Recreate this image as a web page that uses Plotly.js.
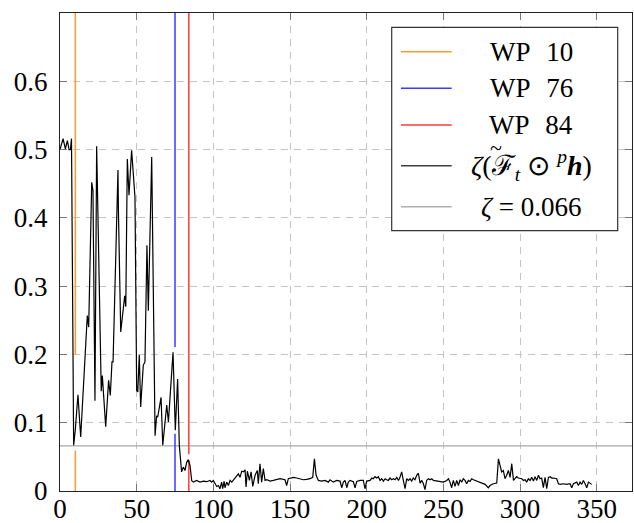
<!DOCTYPE html>
<html><head><meta charset="utf-8">
<script src="https://cdn.plot.ly/plotly-3.0.1.min.js"></script>
<style>html,body{margin:0;padding:0;background:#fff}#chart{width:634px;height:523px}</style>
</head><body><div id="chart"></div>
<script>
// black curve: zeta(F_t ⊙ p h)
const curveX = [0,1,2,3.5,4.8,5.9,6.8,7.5,8.9,10,11.7,13.5,15.5,17.8,18.7,20.7,21.5,22.8,23.9,25.4,26.9,27.6,29.8,31.7,32.8,33.9,34.6,37.8,38.1,39.6,42.2,42.9,43.9,45,46.7,48.9,50,50.7,51.7,52.6,54.3,55.4,56.7,57.6,59.8,62,63,63.7,65.9,67,69.6,70.7,73.7,75.2,76.7,77.8,78.5,79.3,80.4,81.5,82.6,83.7,84.8,
85.9,87,89.1,91.3,93.5,95.7,97.8,98.9,100,102.2,103.3,104.3,105.4,106.1,107,107.6,108.7,109.8,110.9,112,113,115.2,116.3,117.4,118.5,119.6,120.7,121.3,122.2,123.5,124.6,125.7,127.2,128.7,129.3,130.4,131.5,132.6,133.7,134.8,137,139.1,141.3,143.5,146.7,147.8,148.9,150,152.2,154.3,156.5,158.7,160.9,163,164.8,165.9,167,168.5,170.7,172.8,175,176.1,178.3,180.4,182.6,183.7,184.8,185.9,187,188,189.1,191.3,192.4,193.5,195.7,197.8,198.9,200,202.2,
203.3,204.3,205.4,206.5,207.6,208.7,209.8,210.9,212,213,214.1,215.2,216.3,217.4,218.5,219.6,220.7,221.7,222.8,223.9,225,226.1,227.2,228.3,229.3,230.4,231.5,232.6,233.7,234.8,235.9,237,238,239.1,240.2,241.3,242.4,243.5,245.7,247.8,250,252.2,253.3,254.3,255.4,256.5,257.6,258.7,259.8,260.9,262,263,264.1,265.2,266.3,267.4,268.5,269.6,270.7,272.8,275,277.2,279.3,280.4,282.6,284.8,285.9,287,288,289.1,290.2,291.3,292.4,293.5,294.6,295.7,296.7,297.8,298.9,300,301.1,302.2,303.3,304.3,305.4,306.5,307.6,308.7,309.8,310.9,312,313,314.1,315.2,316.3,317.4,318.5,319.6,320.7,321.7,323.9,325,326.1,328.3,330.4,332.6,333.7,334.8,335.9,337,338,339.1,340.2,341.3,342.4,343.5,344.6,345.7,346.7];
const curveY = [0.5,0.508,0.516,0.501,0.513,0.5,0.5,0.516,0.067,0.09,0.141,0.079,0.17,0.257,0.24,0.452,0.44,0.132,0.505,0.35,0.146,0.169,0.094,0.162,0.14,0.189,0.189,0.47,0.41,0.233,0.286,0.27,0.486,0.433,0.499,0.43,0.147,0.145,0.199,0.123,0.184,0.189,0.36,0.264,0.489,0.081,0.11,0.108,0.137,0.067,0.126,0.101,0.203,0.089,0.164,0.067,0.045,0.028,0.035,0.03,0.042,0.046,0.037,
0.015,0.013,0.0155,0.013,0.0145,0.0136,0.0155,0.013,0.0155,0.0067,0.008,0.0033,0.013,0.0033,0.014,0.0048,0.013,0.008,0.0155,0.013,0.0155,0.021,0.025,0.02,0.029,0.028,0.031,0.0058,0.029,0.0155,0.028,0.0067,0.023,0.03,0.0106,0.04,0.013,0.033,0.0155,0.0165,0.0145,0.0155,0.0165,0.018,0.0165,0.008,0.018,0.019,0.02,0.019,0.018,0.0165,0.017,0.018,0.02,0.047,0.023,0.0155,0.0145,0.0155,0.013,0.0165,0.013,0.0155,0.0145,0.0048,0.013,0.0155,0.0048,0.013,0.0155,0.0136,0.0048,0.014,0.0155,0.0155,0.0033,0.0145,0.0155,
0.019,0.018,0.021,0.019,0.021,0.0155,0.018,0.0145,0.018,0.0165,0.0155,0.019,0.0165,0.018,0.0165,0.02,0.0155,0.02,0.028,0.0155,0.0033,0.018,0.0155,0.018,0.0145,0.019,0.0165,0.023,0.026,0.0116,0.0155,0.0106,0.0019,0.0155,0.018,0.0165,0.018,0.0155,0.0145,0.0145,0.013,0.0155,0.018,0.013,0.0048,0.0155,0.0067,0.0155,0.008,0.0165,0.013,0.018,0.0155,0.0106,0.0155,0.014,0.018,0.0165,0.0155,0.013,0.0106,0.0097,0.0048,0.008,0.0106,0.0116,0.047,0.035,0.028,0.03,0.018,0.023,0.03,0.02,0.04,0.0155,0.019,0.021,0.019,0.018,0.018,0.0155,0.0165,0.013,0.018,0.0155,0.02,0.0145,0.021,0.0155,0.023,0.018,0.019,0.0048,0.02,0.0033,0.02,0.021,0.019,0.019,0.018,0.0106,0.0097,0.0106,0.0097,0.0106,0.0048,0.0106,0.0116,0.013,0.008,0.013,0.0097,0.0155,0.0106,0.0048,0.013,0.0106,0.0097];

const wpLabels = ['WP 10', 'WP 76', 'WP 84'];
const wpX = [10, 75, 84];
const wpGapLow = [0.059, 0.084, 0.045];
const wpGapHigh = [0.2, 0.211, 0.054];
const threshold = 0.066;
const thresholdLabel = '<i>ζ</i> = 0.066';
const curveLabel = '<i>ζ</i>(ℱ<sub><i>t</i></sub> ⊙ <sup><i>p</i></sup><b><i>h</i></b>)';
const xTicks = [0, 50, 100, 150, 200, 250, 300, 350];
const yTicks = [0, 0.1, 0.2, 0.3, 0.4, 0.5, 0.6];
const xMax = 373, yMax = 0.7;

const wpColors = ['#ff9a2e', '#3a3aff', '#ff3a3a'];
const font = 'Liberation Serif';

const traces = [];
traces.push({x: [0, xMax], y: [threshold, threshold], mode: 'lines', line: {color: '#a8a8a8', width: 1.2}, hoverinfo: 'skip'});
wpX.forEach((v, i) => {
  traces.push({x: [v, v, null, v, v], y: [wpGapHigh[i], yMax, null, 0, wpGapLow[i]], mode: 'lines',
    line: {color: wpColors[i], width: 1.5}, hoverinfo: 'skip'});
});
traces.push({x: curveX, y: curveY, mode: 'lines', line: {color: '#000', width: 1.2}});

// custom legend (paper coords)
const pl = 60, pr = 632, pt = 13, pb = 491;
const px = p => (p - pl) / (pr - pl);
const py = p => (pb - p) / (pb - pt);
const rows = [51.7, 88.3, 125, 165.7, 206.7];
const legendTexts = wpLabels.map(s => s.replace(' ', '\u00a0\u2004')).concat([curveLabel, thresholdLabel]);
const legendColors = wpColors.concat(['#404040', '#b0b0b0']);
const legendSizes = [27, 27, 27, 28, 27];
const shapes = [{type: 'rect', xref: 'paper', yref: 'paper', x0: px(391.7), x1: px(617.7), y0: py(230.7), y1: py(27.3),
  fillcolor: '#fff', line: {color: '#333', width: 1.2}, layer: 'above'}];
const annotations = [];
rows.forEach((r, i) => {
  shapes.push({type: 'line', xref: 'paper', yref: 'paper', x0: px(401), x1: px(451.7), y0: py(r), y1: py(r),
    line: {color: legendColors[i], width: 1.4}, layer: 'above'});
  annotations.push({xref: 'paper', yref: 'paper', x: px(531), y: py(r), xanchor: 'center', yanchor: 'middle',
    text: legendTexts[i], showarrow: false, font: {family: font, size: legendSizes[i], color: '#000'}});
});
// wide tilde over the script F
annotations.push({xref: 'paper', yref: 'paper', x: px(496), y: py(147), xanchor: 'center', yanchor: 'middle',
  text: '~', showarrow: false, font: {family: font, size: 22, color: '#000'}});

const axisCommon = {showline: true, linecolor: '#222', linewidth: 1, mirror: 'ticks', ticks: 'inside', ticklen: 7,
  tickcolor: '#777', tickwidth: 1, showgrid: true, gridcolor: '#c4c4c4', griddash: '7px,6px', gridwidth: 1,
  zeroline: false, tickfont: {family: font, size: 27, color: '#000'}};

const layout = {
  width: 634, height: 523, margin: {l: pl, r: 634 - pr, t: pt, b: 523 - pb},
  paper_bgcolor: '#fff', plot_bgcolor: '#fff', showlegend: false,
  xaxis: Object.assign({}, axisCommon, {range: [0, xMax], tickvals: xTicks, ticktext: xTicks.map(String), ticklabelstandoff: -6}),
  yaxis: Object.assign({}, axisCommon, {range: [0, yMax], tickvals: yTicks, ticktext: yTicks.map(String), ticklabelstandoff: 6}),
  shapes: shapes, annotations: annotations
};
Plotly.newPlot('chart', traces, layout, {staticPlot: true, displayModeBar: false});
</script></body></html>
